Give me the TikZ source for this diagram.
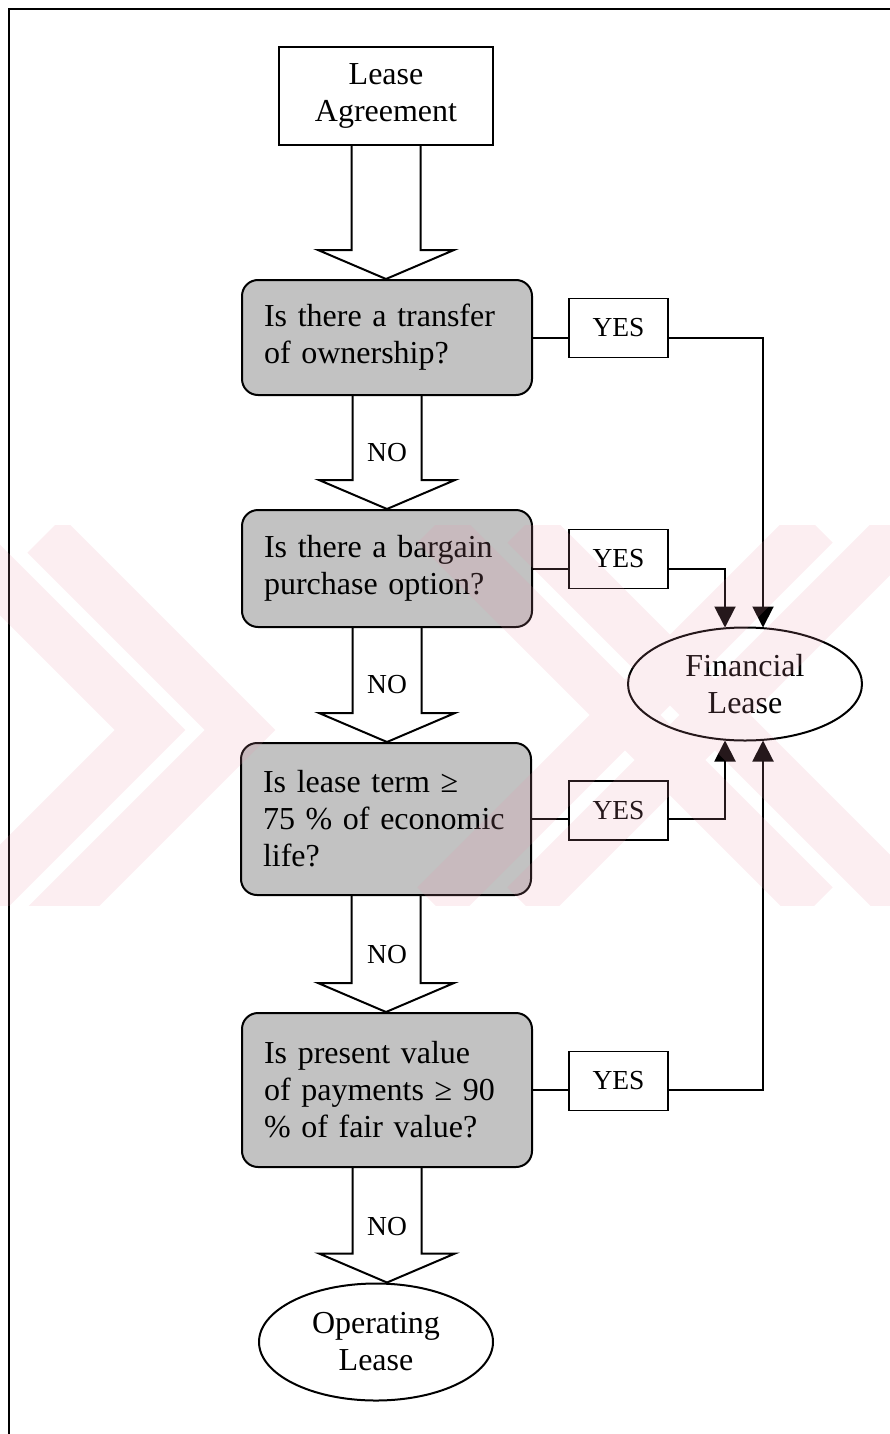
\documentclass[tikz,border=0pt]{standalone}
\usepackage{fontspec}
\setmainfont{Liberation Serif}
\usetikzlibrary{calc,arrows.meta,shapes.geometric}
\pgfdeclarelayer{bg}
\pgfdeclarelayer{fg}
\pgfsetlayers{bg,main,fg}
\definecolor{boxgray}{gray}{0.76}
\definecolor{wmpink}{RGB}{235,150,170}
\newcommand\hollowarr[2]{%
  \draw[barrow] ($(#1.south)+(-34.5,0)$) -- ($(#1.south |- #2.north)+(-34.5,-29)$)
    -- ($(#1.south |- #2.north)+(-68,-29)$) -- (#1.south |- #2.north)
    -- ($(#1.south |- #2.north)+(68,-29)$) -- ($(#1.south |- #2.north)+(34.5,-29)$)
    -- ($(#1.south)+(34.5,0)$);}
\begin{document}
\begin{tikzpicture}[x=1pt,y=-1pt,
  bigfont/.style={font=\fontsize{32}{37}\selectfont},
  smallfont/.style={font=\fontsize{27.5}{32}\selectfont},
  startbox/.style={draw,line width=2pt,fill=white,minimum width=214pt,minimum height=98pt,align=center,bigfont,inner sep=0pt},
  decision/.style={draw,line width=2pt,rounded corners=16pt,fill=boxgray,minimum width=290pt,text width=246pt,inner xsep=22pt,inner ysep=0pt,align=left,bigfont},
  yesbox/.style={draw,line width=1.8pt,fill=white,minimum width=99pt,minimum height=59pt,smallfont,inner sep=0pt},
  endnode/.style={draw,ellipse,line width=2pt,fill=white,minimum width=234pt,align=center,bigfont,inner sep=0pt},
  nolabel/.style={smallfont,inner sep=0pt},
  conn/.style={line width=2pt},
  endtip/.style={-{Triangle[width=21pt,length=21pt]}},
  barrow/.style={line width=2pt,fill=white,line join=miter}]
\useasboundingbox (0,0) rectangle (890,1434);
% frame
\draw[line width=2.5pt] (9,1434) -- (9,9) -- (890,9);

% nodes
\node[startbox] (la) at (386,96) {Lease\\Agreement};
\node[decision,minimum height=115pt] (d1) at (387,337.5) {Is there a transfer\\of ownership?};
\node[decision,minimum height=117pt] (d2) at (387,568.5) {Is there a bargain\\purchase option?};
\node[decision,minimum height=152pt] (d3) at (386,819) {Is lease term ≥\\75 \% of economic\\life?};
\node[decision,minimum height=154pt] (d4) at (387,1090) {Is present value\\of payments ≥ 90\\\% of fair value?};
\node[endnode,minimum height=113pt] (fin) at (745,684) {Financial\\Lease};
\node[endnode,minimum height=117pt] (op) at (376,1342) {Operating\\Lease};
\node[yesbox] (y1) at (618.5,328) {YES};
\node[yesbox] (y2) at (618.5,559) {YES};
\node[yesbox] (y3) at (618.5,810.5) {YES};
\node[yesbox] (y4) at (618.5,1081) {YES};

\coordinate (finNR) at ($(fin.north)+(18,1)$);
\coordinate (finNL) at ($(fin.north)+(-20,1)$);
\coordinate (finSR) at ($(fin.south)+(18,-1)$);
\coordinate (finSL) at ($(fin.south)+(-20,-1)$);

% block arrows behind the boxes
\begin{pgfonlayer}{bg}
\hollowarr{la}{d1}
\hollowarr{d1}{d2}
\hollowarr{d2}{d3}
\hollowarr{d3}{d4}
\hollowarr{d4}{op}
\end{pgfonlayer}

\node[nolabel] (n1) at (387,453) {NO};
\node[nolabel] (n2) at (387,685) {NO};
\node[nolabel] (n3) at (387,955) {NO};
\node[nolabel] (n4) at (387,1227) {NO};

% YES connectors
\draw[conn] (d1.east) -- (d1.east -| y1.west);
\draw[conn,endtip] (d1.east -| y1.east) -| (finNR);
\draw[conn] (d2.east) -- (d2.east -| y2.west);
\draw[conn,endtip] (d2.east -| y2.east) -| (finNL);
\draw[conn] (d3.east) -- (d3.east -| y3.west);
\draw[conn,endtip] (d3.east -| y3.east) -| (finSL);
\draw[conn] (d4.east) -- (d4.east -| y4.west);
\draw[conn,endtip] (d4.east -| y4.east) -| (finSR);

% faint watermark
\begin{pgfonlayer}{fg}
\begin{scope}[transparency group,opacity=0.16]
\clip (0,525) rectangle (890,905);
\foreach \dx in {-45,45}{
  \draw[wmpink,line width=50pt,line join=miter] ($(0,535)+(\dx,0)$) -- ($(195,730)+(\dx,0)$) -- ($(0,925)+(\dx,0)$);
  \draw[wmpink,line width=50pt] ($(480,525)+(\dx,0)$) -- ($(860,905)+(\dx,0)$);
  \draw[wmpink,line width=50pt] ($(860,525)+(\dx,0)$) -- ($(480,905)+(\dx,0)$);
}
\end{scope}
\end{pgfonlayer}
\end{tikzpicture}
\end{document}
